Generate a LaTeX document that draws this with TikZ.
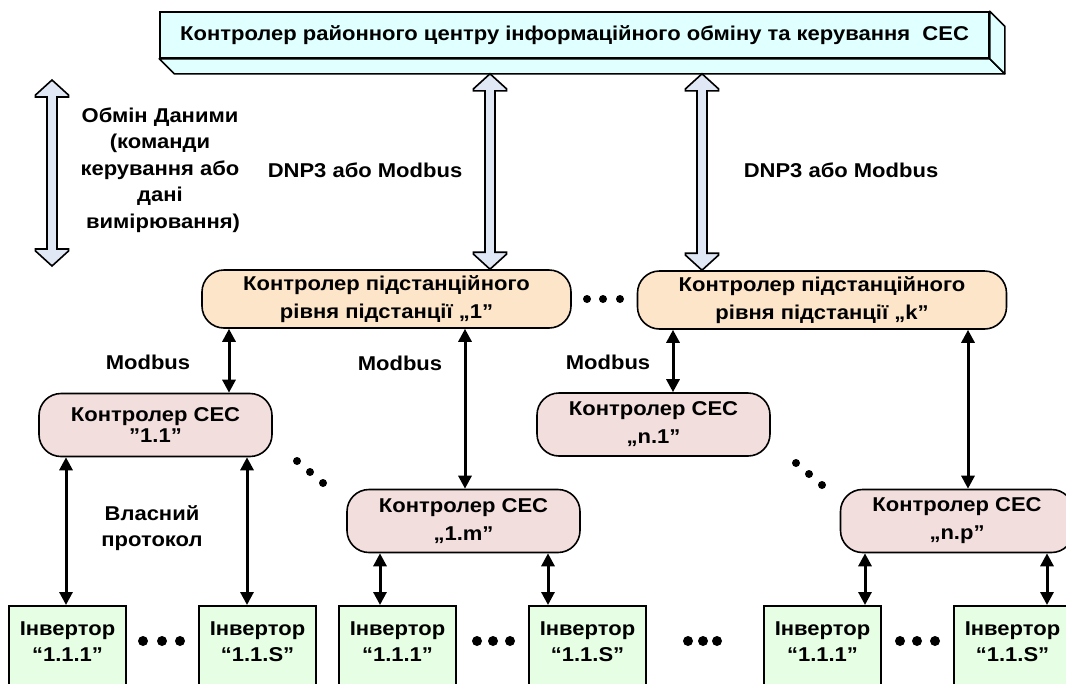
\documentclass[tikz,border=0pt]{standalone}
\usepackage{fontspec}
\setmainfont{Liberation Sans}[FakeStretch=1.1]
\usetikzlibrary{arrows.meta,calc}

\definecolor{topfill}{HTML}{E0FFFF}
\definecolor{hollowfill}{HTML}{E1E8F5}
\definecolor{subfill}{HTML}{FDE5CA}
\definecolor{secfill}{HTML}{F2DEDC}
\definecolor{invfill}{HTML}{E6FFE4}

\newcommand\invlabel[1]{\begin{tabular}[t]{@{}c@{}}Інвертор\\“#1”\end{tabular}}
\newcommand\hollowarrow[2]{%
  \draw[hollow] let \p1=#1, \p2=#2 in
    (\x1,\y1) -- (\x1+16.5pt,\y1-15pt) -- (\x1+16.5pt,\y1-17pt) -- (\x1+5pt,\y1-17pt)
    -- (\x1+5pt,\y2+17pt) -- (\x1+16.5pt,\y2+17pt) -- (\x1+16.5pt,\y2+15pt) -- (\x1,\y2)
    -- (\x1-16.5pt,\y2+15pt) -- (\x1-16.5pt,\y2+17pt) -- (\x1-5pt,\y2+17pt)
    -- (\x1-5pt,\y1-17pt) -- (\x1-16.5pt,\y1-17pt) -- (\x1-16.5pt,\y1-15pt) -- cycle;}

\tikzset{
  topbox/.style={draw, line width=1.6pt, fill=topfill, minimum width=829pt, minimum height=46pt},
  topside/.style={draw, line width=1.6pt, fill=topfill, line join=round},
  subbox/.style={draw, line width=1.6pt, fill=subfill, rounded corners=22pt, align=center,
    minimum width=369pt, minimum height=58pt, font=\fontsize{20}{28}\selectfont\bfseries},
  secbox/.style={draw, line width=1.6pt, fill=secfill, rounded corners=22pt, align=center,
    minimum width=233pt, minimum height=63pt, font=\fontsize{20}{28}\selectfont\bfseries},
  invbox/.style={draw, line width=1.6pt, fill=invfill, anchor=north, minimum width=117pt,
    inner ysep=11pt, text depth=80pt},
  hollow/.style={draw, line width=1.6pt, fill=hollowfill, line join=miter},
  link/.style={{Triangle[length=13pt,width=13pt]}-{Triangle[length=13pt,width=13pt]}, line width=3pt},
  lbl/.style={align=center}
}

\begin{document}
\begin{tikzpicture}[x=1pt,y=-1pt,font=\fontsize{20}{26.5}\selectfont\bfseries]
  \useasboundingbox (0,0) rectangle (1066,683);

  % верхній рівень
  \node[topbox] (top) at (574.5,35) {Контролер районного центру інформаційного обміну та керування\ \ СЕС};
  \draw[topside] (top.south west) -- ([shift={(15,15)}]top.south west) -- ([shift={(15,15)}]top.south east) -- (top.south east) -- cycle;
  \draw[topside] (top.north east) -- ([shift={(15,15)}]top.north east) -- ([shift={(15,15)}]top.south east) -- (top.south east) -- cycle;
  \coordinate (topbase) at ([yshift=-15pt]top.south);

  % підстанції
  \node[subbox] (sub1) at (386.5,299) {Контролер підстанційного\\рівня підстанції „1”};
  \node[subbox] (subk) at (822,300) {Контролер підстанційного\\рівня підстанції „k”};

  % контролери СЕС
  \node[secbox] (c11) at (155.5,425) {Контролер СЕС\\[-7pt]”1.1”};
  \node[secbox] (c1m) at (463.5,521) {Контролер СЕС\\„1.m”};
  \node[secbox] (cn1) at (653.5,424.5) {Контролер СЕС\\„n.1”};
  \node[secbox] (cnp) at (957,521) {Контролер СЕС\\„n.p”};

  % інвертори
  \foreach \x/\n/\t in {67.5/i1/1.1.1, 257.5/i2/1.1.S, 397.5/i3/1.1.1, 587.5/i4/1.1.S, 822.5/i5/1.1.1, 1012.5/i6/1.1.S}
    \node[invbox] (\n) at (\x,605) {\invlabel{\t}};

  % обмін даними
  \coordinate (legtop) at (52,80);
  \coordinate (legbot) at (52,266);
  \hollowarrow{(legtop)}{(legbot)}
  \hollowarrow{(topbase -| 490,0)}{(sub1.north -| 490,0)}
  \hollowarrow{(topbase -| 702,0)}{(subk.north -| 702,0)}

  \node[lbl] (leg) at (160,170) {Обмін Даними\\(команди\\керування або\\дані\\\ вимірювання)};
  \node[lbl] (p1) at (365,170) {DNP3 або Modbus};
  \node[lbl] (p2) at (841,170) {DNP3 або Modbus};
  \node[lbl] (m1) at (148,362) {Modbus};
  \node[lbl] (m2) at (400,363) {Modbus};
  \node[lbl] (m3) at (608,362) {Modbus};
  \node[lbl] (own) at (152,528) {Власний\\протокол};

  % з'єднання
  \draw[link] (sub1.south -| 229,0) -- (c11.north -| 229,0);
  \draw[link] (sub1.south -| 465,0) -- (c1m.north -| 465,0);
  \draw[link] (subk.south -| 673,0) -- (cn1.north -| 673,0);
  \draw[link] (subk.south -| 968,0) -- (cnp.north -| 968,0);
  \draw[link] (c11.south -| 66,0) -- (i1.north -| 66,0);
  \draw[link] (c11.south -| 247,0) -- (i2.north -| 247,0);
  \draw[link] (c1m.south -| 380,0) -- (i3.north -| 380,0);
  \draw[link] (c1m.south -| 548,0) -- (i4.north -| 548,0);
  \draw[link] (cnp.south -| 865,0) -- (i5.north -| 865,0);
  \draw[link] (cnp.south -| 1047,0) -- (i6.north -| 1047,0);

  % крапки
  \foreach \x in {587,603,620} \fill (\x,299) circle (4pt);
  \foreach \x/\y in {297/461,310/472,323/483,796/463,809/474,822/485} \fill (\x,\y) circle (4pt);
  \foreach \x in {143,162,180,477,493,510,688,703,717,900,917,935} \fill (\x,641) circle (5pt);
\end{tikzpicture}
\end{document}
